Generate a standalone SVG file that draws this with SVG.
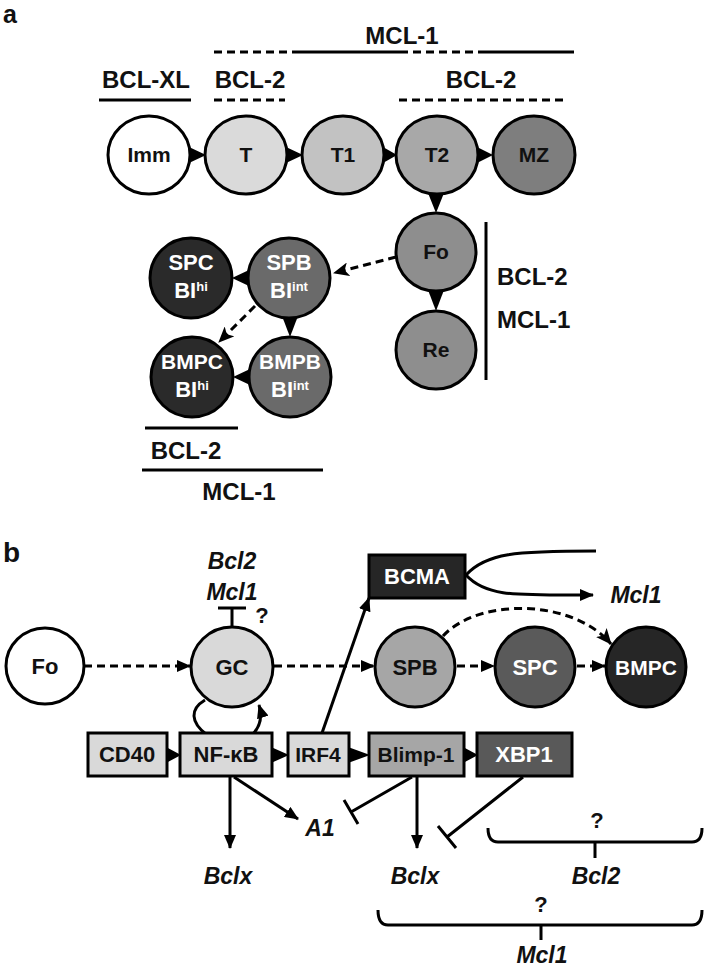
<svg xmlns="http://www.w3.org/2000/svg" width="706" height="969" viewBox="0 0 706 969">
<style>
text{font-family:"Liberation Sans",Arial,sans-serif;font-weight:bold;fill:#111}
.lbl{font-size:24px}
.cl{font-size:21px;text-anchor:middle}
.w{fill:#fff}
.it{font-style:italic;font-size:23px;text-anchor:middle}
.q{font-size:22px;text-anchor:middle}
.node{stroke:#000;stroke-width:3}
.ln{stroke:#000;stroke-width:3;fill:none}
.ds{stroke:#000;stroke-width:3;fill:none;stroke-dasharray:8 5}
.tri{fill:#000}
</style>
<defs>
<marker id="ah" markerUnits="userSpaceOnUse" markerWidth="14" markerHeight="12" refX="13" refY="6" orient="auto"><path d="M0,0 L14,6 L0,12 z" fill="#000"/></marker>
<marker id="an" markerUnits="userSpaceOnUse" markerWidth="16" markerHeight="14" refX="15" refY="7" orient="auto"><path d="M0,0 L16,7 L0,14 L4,7 z" fill="#000"/></marker>
</defs>

<!-- Panel a -->
<text x="3" y="23" style="font-size:25px">a</text>
<g id="labels-a">
<text class="lbl" x="402" y="44" text-anchor="middle">MCL-1</text>
<text class="lbl" x="146" y="88" text-anchor="middle">BCL-XL</text>
<text class="lbl" x="250" y="88" text-anchor="middle">BCL-2</text>
<text class="lbl" x="481" y="88" text-anchor="middle">BCL-2</text>
<text class="lbl" x="497" y="285">BCL-2</text>
<text class="lbl" x="497" y="328">MCL-1</text>
<text class="lbl" x="186" y="459" text-anchor="middle">BCL-2</text>
<text class="lbl" x="239" y="500" text-anchor="middle">MCL-1</text>
</g>
<g id="bars-a">
<path class="ds" d="M214 52 H292"/>
<path class="ln" d="M292 52 H400"/>
<path class="ds" d="M400 52 H480"/>
<path class="ln" d="M480 52 H574"/>
<path class="ln" d="M99 100 H191"/>
<path class="ds" d="M214 100 H285"/>
<path class="ds" d="M399 100 H568"/>
<path class="ln" d="M486 222 V380"/>
<path class="ln" d="M145 428 H238"/>
<path class="ln" d="M142 470 H323"/>
</g>
<g id="connectors-a">
<polygon class="tri" points="189,147 189,163 206,155"/>
<polygon class="tri" points="286,147 286,163 303,155"/>
<polygon class="tri" points="383,147 383,163 397,155"/>
<polygon class="tri" points="477,147 477,163 493,155"/>
<polygon class="tri" points="428,193 444,193 436,213"/>
<polygon class="tri" points="428,290 444,290 436,311"/>
<polygon class="tri" points="249,270 249,286 232,278"/>
<polygon class="tri" points="282,316 298,316 290,337"/>
<polygon class="tri" points="250,369 250,385 233,377"/>
<path class="ds" d="M396 257 L334 273" marker-end="url(#an)"/>
<path class="ds" d="M255 306 L219 342" marker-end="url(#an)"/>
</g>
<g id="a-Imm"><ellipse class="node" cx="149" cy="155" rx="41" ry="39" fill="#fff"/><text class="cl" x="149" y="162">Imm</text></g>
<g id="a-T"><ellipse class="node" cx="246" cy="155" rx="41" ry="39" fill="#dadada"/><text class="cl" x="246" y="162">T</text></g>
<g id="a-T1"><ellipse class="node" cx="343" cy="155" rx="41" ry="39" fill="#c2c2c2"/><text class="cl" x="343" y="162">T1</text></g>
<g id="a-T2"><ellipse class="node" cx="437" cy="155" rx="41" ry="39" fill="#a8a8a8"/><text class="cl" x="437" y="162">T2</text></g>
<g id="a-MZ"><ellipse class="node" cx="534" cy="155" rx="41" ry="39" fill="#7e7e7e"/><text class="cl" x="534" y="162">MZ</text></g>
<g id="a-Fo"><ellipse class="node" cx="436" cy="252" rx="40" ry="39" fill="#8e8e8e"/><text class="cl" x="436" y="259">Fo</text></g>
<g id="a-Re"><ellipse class="node" cx="436" cy="350" rx="40" ry="39" fill="#8e8e8e"/><text class="cl" x="436" y="357">Re</text></g>
<g id="a-SPC"><ellipse class="node" cx="191" cy="278" rx="41" ry="40" fill="#2a2a2a"/><text class="cl w" x="191" y="270" style="font-size:22px">SPC</text><text class="cl w" x="191" y="298" style="font-size:22px">BI<tspan style="font-size:13px" dy="-7">hi</tspan></text></g>
<g id="a-SPB"><ellipse class="node" cx="289" cy="278" rx="41" ry="40" fill="#6a6a6a"/><text class="cl w" x="289" y="270" style="font-size:22px">SPB</text><text class="cl w" x="289" y="298" style="font-size:22px">BI<tspan style="font-size:13px" dy="-7">int</tspan></text></g>
<g id="a-BMPC"><ellipse class="node" cx="192" cy="377" rx="41" ry="40" fill="#2a2a2a"/><text class="cl w" x="192" y="369" style="font-size:21px">BMPC</text><text class="cl w" x="192" y="397" style="font-size:22px">BI<tspan style="font-size:13px" dy="-7">hi</tspan></text></g>
<g id="a-BMPB"><ellipse class="node" cx="290" cy="377" rx="41" ry="40" fill="#6a6a6a"/><text class="cl w" x="290" y="369" style="font-size:21px">BMPB</text><text class="cl w" x="290" y="397" style="font-size:22px">BI<tspan style="font-size:13px" dy="-7">int</tspan></text></g>

<!-- Panel b -->
<text x="3" y="562" style="font-size:28px">b</text>
<g id="connectors-b">
<path class="ds" d="M84 666 H190" marker-end="url(#ah)"/>
<path class="ds" d="M274 666 H374" marker-end="url(#ah)"/>
<path class="ds" d="M457 666 H494" marker-end="url(#ah)"/>
<path class="ds" d="M577 666 H605" marker-end="url(#ah)"/>
<path class="ds" d="M443 636 C478 598 572 598 611 644" marker-end="url(#an)"/>
<path class="ln" d="M322 733 L369 598" marker-end="url(#ah)"/>
<path class="ln" d="M466 575 C486 553 515 551 596 551"/>
<path class="ln" d="M466 575 C486 597 515 595 593 595" marker-end="url(#ah)"/>
<path class="ln" d="M232 628 V608 M218 608 H246"/>
<path class="ln" d="M207 735 C190 722 190 709 205 700"/>
<path class="ln" d="M252 735 C260 727 263 718 259 705" marker-end="url(#ah)"/>
<polygon class="tri" points="166,747 166,763 181,755"/>
<polygon class="tri" points="271,747 271,763 289,755"/>
<polygon class="tri" points="348,747 348,763 370,755"/>
<polygon class="tri" points="463,747 463,763 478,755"/>
<path class="ln" d="M230 777 V848" marker-end="url(#ah)"/>
<path class="ln" d="M234 777 L298 819" marker-end="url(#ah)"/>
<path class="ln" d="M412 777 L351 812 M344 800 L358 824"/>
<path class="ln" d="M417 777 V848" marker-end="url(#ah)"/>
<path class="ln" d="M523 777 L447 837 M438 826 L456 848"/>
<path class="ln" d="M488 828 Q488 842 498 842 H692 Q702 842 702 828 M595 842 V858"/>
<path class="ln" d="M378 910 Q378 925 388 925 H692 Q702 925 702 910 M541 925 V940"/>
</g>
<g id="b-Fo"><ellipse class="node" cx="45" cy="666" rx="39" ry="38" fill="#fff"/><text class="cl" x="45" y="674" style="font-size:22px">Fo</text></g>
<g id="b-GC"><ellipse class="node" cx="232" cy="667" rx="41" ry="40" fill="#d9d9d9"/><text class="cl" x="232" y="675" style="font-size:22px">GC</text></g>
<g id="b-SPB"><ellipse class="node" cx="415" cy="667" rx="40" ry="40" fill="#a6a6a6"/><text class="cl" x="415" y="675" style="font-size:22px">SPB</text></g>
<g id="b-SPC"><ellipse class="node" cx="535" cy="667" rx="40" ry="40" fill="#5a5a5a"/><text class="cl w" x="535" y="675" style="font-size:22px">SPC</text></g>
<g id="b-BMPC"><ellipse class="node" cx="646" cy="667" rx="40" ry="40" fill="#262626"/><text class="cl w" x="646" y="675" style="font-size:21px">BMPC</text></g>
<g id="b-BCMA"><rect class="node" x="369" y="555" width="96" height="43" fill="#262626"/><text class="cl w" x="417" y="584" style="font-size:22px">BCMA</text></g>
<g id="b-CD40"><rect class="node" x="88" y="733" width="79" height="43" fill="#d9d9d9"/><text class="cl" x="127" y="762" style="font-size:22px">CD40</text></g>
<g id="b-NFkB"><rect class="node" x="180" y="733" width="92" height="43" fill="#d9d9d9"/><text class="cl" x="226" y="762" style="font-size:22px">NF-κB</text></g>
<g id="b-IRF4"><rect class="node" x="288" y="733" width="61" height="43" fill="#d9d9d9"/><text class="cl" x="318" y="762" style="font-size:21px">IRF4</text></g>
<g id="b-Blimp1"><rect class="node" x="369" y="733" width="95" height="43" fill="#a6a6a6"/><text class="cl" x="416" y="762" style="font-size:21px">Blimp-1</text></g>
<g id="b-XBP1"><rect class="node" x="477" y="733" width="95" height="43" fill="#595959"/><text class="cl w" x="524" y="762" style="font-size:22px">XBP1</text></g>
<g id="labels-b">
<text class="it" x="232" y="569">Bcl2</text>
<text class="it" x="232" y="600">Mcl1</text>
<text class="q" x="262" y="623">?</text>
<text class="it" x="636" y="603">Mcl1</text>
<text class="it" x="320" y="836">A1</text>
<text class="it" x="228" y="884">Bclx</text>
<text class="it" x="415" y="884">Bclx</text>
<text class="it" x="596" y="884">Bcl2</text>
<text class="q" x="597" y="828">?</text>
<text class="q" x="541" y="912">?</text>
<text class="it" x="542" y="963">Mcl1</text>
</g>
</svg>
